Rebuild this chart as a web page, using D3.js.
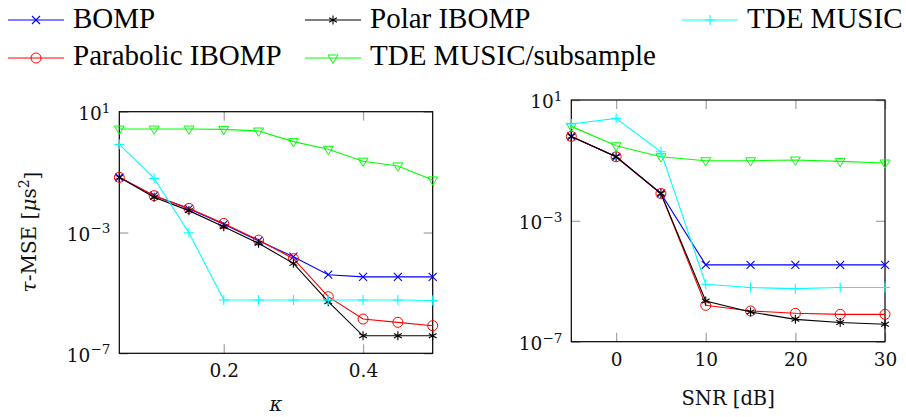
<!DOCTYPE html>
<html>
<head>
<meta charset="utf-8">
<script src="https://cdn.jsdelivr.net/npm/d3@7"></script>
<style>
  body { margin: 0; background: #fff; }
  svg { display: block; }
</style>
</head>
<body>
<svg id="chartSvg" width="906" height="417"></svg>
<script>
// x values of the two panels
const kappaValues = [0.05, 0.1, 0.15, 0.2, 0.25, 0.3, 0.35, 0.4, 0.45, 0.5];
const snrValues = [-5, 0, 5, 10, 15, 20, 25, 30];

// left panel, tau-MSE against kappa
const bompKappa = [0.067, 0.0166, 6.1e-3, 1.86e-3, 5.3e-4, 1.58e-4, 4.0e-5, 3.4e-5, 3.4e-5, 3.4e-5];
const parabolicKappa = [0.067, 0.0166, 6.3e-3, 2.0e-3, 5.6e-4, 1.36e-4, 7.5e-6, 1.36e-6, 1.06e-6, 8.2e-7];
const polarKappa = [0.067, 0.0146, 5.3e-3, 1.56e-3, 4.4e-4, 9.5e-5, 5.1e-6, 3.8e-7, 3.8e-7, 3.8e-7];
const musicKappa = [0.83, 0.062, 9.8e-4, 5.8e-6, 5.8e-6, 5.8e-6, 5.8e-6, 5.8e-6, 5.8e-6, 5.6e-6];
const subsampleKappa = [2.67, 2.67, 2.67, 2.6, 2.29, 1.02, 0.57, 0.23, 0.16, 0.055];

// right panel, tau-MSE against SNR
const bompSnr = [0.625, 0.132, 8.05e-3, 3.5e-5, 3.5e-5, 3.5e-5, 3.5e-5, 3.5e-5];
const parabolicSnr = [0.625, 0.132, 8.05e-3, 1.6e-6, 1.04e-6, 8.7e-7, 8.05e-7, 8.05e-7];
const polarSnr = [0.625, 0.132, 8.05e-3, 2.23e-6, 9.6e-7, 5.5e-7, 4.3e-7, 3.76e-7];
const musicSnr = [1.6, 2.47, 0.194, 8.0e-6, 6.2e-6, 5.7e-6, 6.2e-6, 6.2e-6];
const subsampleSnr = [1.34, 0.306, 0.132, 0.0975, 0.0975, 0.103, 0.093, 0.082];

// ticks
const kappaTicks = [0.2, 0.4];
const snrTicks = [0, 10, 20, 30];
const yTickExponents = [1, -3, -7];

const seriesNames = ["BOMP", "Polar IBOMP", "TDE MUSIC", "Parabolic IBOMP", "TDE MUSIC/subsample"];
const seriesColors = {"BOMP": "#0000ff", "Parabolic IBOMP": "#ff0000", "Polar IBOMP": "#000000",
                      "TDE MUSIC": "#00ffff", "TDE MUSIC/subsample": "#00ff00"};
const seriesMarks = {"BOMP": "cross", "Parabolic IBOMP": "circle", "Polar IBOMP": "asterisk",
                     "TDE MUSIC": "plus", "TDE MUSIC/subsample": "triangle"};

const chartSvg = d3.select("#chartSvg");
const tickFont = "DejaVu Serif";

function drawMark(g, type, x, y, color) {
  if (type === "circle") {
    g.append("circle").attr("cx", x).attr("cy", y).attr("r", 5)
      .attr("fill", "none").attr("stroke", color).attr("stroke-width", 1);
  } else if (type === "cross") {
    let s = 4;
    g.append("path").attr("d", `M${x-s},${y-s}L${x+s},${y+s}M${x-s},${y+s}L${x+s},${y-s}`)
      .attr("stroke", color).attr("stroke-width", 1.1);
  } else if (type === "plus") {
    let s = 5;
    g.append("path").attr("d", `M${x-s},${y}L${x+s},${y}M${x},${y-s}L${x},${y+s}`)
      .attr("stroke", color).attr("stroke-width", 1.1);
  } else if (type === "asterisk") {
    let s = 4.5, c = s * Math.cos(Math.PI / 6), h = s * 0.5;
    g.append("path").attr("d", `M${x},${y-s}L${x},${y+s}M${x-c},${y-h}L${x+c},${y+h}M${x-c},${y+h}L${x+c},${y-h}`)
      .attr("stroke", color).attr("stroke-width", 1.1);
  } else if (type === "triangle") {
    let s = 5;
    g.append("path").attr("d", `M${x-s},${y-s*0.6}L${x+s},${y-s*0.6}L${x},${y+s*1.05}Z`)
      .attr("fill", "none").attr("stroke", color).attr("stroke-width", 1);
  }
}

function drawPanel(p) {
  let xScale = d3.scaleLinear().domain(p.xDomain).range([p.left, p.right]);
  let yScale = d3.scaleLog().domain([1e-7, 10]).range([p.bottom, p.top]);
  let g = chartSvg.append("g");

  // grey inward ticks on all four sides
  let tickLen = 9;
  let xb = g.append("g").attr("transform", "translate(0," + p.bottom + ")")
    .call(d3.axisBottom(xScale).tickValues(p.xTicks).tickSize(-tickLen).tickSizeOuter(0).tickPadding(12)
      .tickFormat(p.xFormat));
  let xt = g.append("g").attr("transform", "translate(0," + p.top + ")")
    .call(d3.axisTop(xScale).tickValues(p.xTicks).tickSize(-tickLen).tickSizeOuter(0).tickFormat(""));
  let yTicks = yTickExponents.map(function (e) { return Math.pow(10, e); });
  let yl = g.append("g").attr("transform", "translate(" + p.left + ",0)")
    .call(d3.axisLeft(yScale).tickValues(yTicks).tickSize(-tickLen).tickSizeOuter(0).tickPadding(9));
  let yr = g.append("g").attr("transform", "translate(" + p.right + ",0)")
    .call(d3.axisRight(yScale).tickValues(yTicks).tickSize(-tickLen).tickSizeOuter(0).tickFormat(""));

  [xb, xt, yl, yr].forEach(function (a) {
    a.select(".domain").remove();
    a.selectAll(".tick line").attr("stroke", "#a8a8a8").attr("stroke-width", 1.3);
  });

  xb.selectAll(".tick text")
    .attr("font-family", tickFont).attr("font-size", 18.5).attr("fill", "#111")
    .attr("dy", null).attr("y", 24);

  // 10^n labels
  yl.selectAll(".tick text").each(function (d) {
    let t = d3.select(this).text("").attr("dy", "0.42em").attr("font-family", tickFont)
      .attr("font-size", 18.5).attr("fill", "#111");
    let e = Math.round(Math.log10(d));
    t.append("tspan").text("10");
    t.append("tspan").attr("dy", "-0.55em").attr("font-size", 13.5)
      .text(e < 0 ? "\u2212" + (-e) : e);
  });

  // frame
  g.append("rect").attr("x", p.left).attr("y", p.top)
    .attr("width", p.right - p.left).attr("height", p.bottom - p.top)
    .attr("fill", "none").attr("stroke", "#000").attr("stroke-width", 1.2);

  // series
  let line = d3.line().x(function (d) { return xScale(d[0]); }).y(function (d) { return yScale(d[1]); });
  p.series.forEach(function (s) {
    let pts = p.xValues.map(function (x, i) { return [x, s.values[i]]; });
    let color = seriesColors[s.name];
    g.append("path").datum(pts).attr("d", line)
      .attr("fill", "none").attr("stroke", color).attr("stroke-width", 1.1);
    pts.forEach(function (d) {
      drawMark(g, seriesMarks[s.name], xScale(d[0]), yScale(d[1]), color);
    });
  });

  // x label
  g.append("text").attr("x", (p.left + p.right) / 2).attr("y", p.xLabelY)
    .attr("text-anchor", "middle").attr("font-family", tickFont).attr("font-size", 19.5)
    .attr("font-style", p.xLabelItalic ? "italic" : null).attr("fill", "#111")
    .text(p.xLabel);
}

drawPanel({
  left: 119.3, right: 432.7, top: 111.7, bottom: 353.3,
  xDomain: [0.05, 0.5], xTicks: kappaTicks, xFormat: d3.format(".1f"),
  xValues: kappaValues, xLabel: "\u03ba", xLabelItalic: true, xLabelY: 411,
  series: [
    {name: "BOMP", values: bompKappa},
    {name: "Parabolic IBOMP", values: parabolicKappa},
    {name: "Polar IBOMP", values: polarKappa},
    {name: "TDE MUSIC/subsample", values: subsampleKappa},
    {name: "TDE MUSIC", values: musicKappa}
  ]
});

drawPanel({
  left: 571.3, right: 885, top: 100, bottom: 341.7,
  xDomain: [-5, 30], xTicks: snrTicks, xFormat: d3.format("d"),
  xValues: snrValues, xLabel: "SNR [dB]", xLabelItalic: false, xLabelY: 405,
  series: [
    {name: "BOMP", values: bompSnr},
    {name: "Parabolic IBOMP", values: parabolicSnr},
    {name: "Polar IBOMP", values: polarSnr},
    {name: "TDE MUSIC/subsample", values: subsampleSnr},
    {name: "TDE MUSIC", values: musicSnr}
  ]
});

// y label of the left panel
let yLabel = chartSvg.append("text")
  .attr("transform", "translate(36,232) rotate(-90)")
  .attr("text-anchor", "middle").attr("font-family", tickFont).attr("font-size", 20).attr("fill", "#111");
yLabel.append("tspan").attr("font-style", "italic").text("\u03c4");
yLabel.append("tspan").text("-MSE [");
yLabel.append("tspan").attr("font-style", "italic").text("\u03bc");
yLabel.append("tspan").text("s");
yLabel.append("tspan").attr("dy", "-0.5em").attr("font-size", 14).text("2");
yLabel.append("tspan").attr("dy", "0.5em").text("]");

// legend, three columns and two rows
let legendX = [8, 305, 682];
let legendRowY = [20, 58];
let legendTextY = [28.3, 65];
seriesNames.forEach(function (name, i) {
  let col = i % 3, row = Math.floor(i / 3);
  let x0 = legendX[col], y = legendRowY[row];
  let color = seriesColors[name];
  chartSvg.append("line").attr("x1", x0).attr("x2", x0 + 56).attr("y1", y).attr("y2", y)
    .attr("stroke", color).attr("stroke-width", 1.2);
  drawMark(chartSvg, seriesMarks[name], x0 + 28, y, color);
  chartSvg.append("text").attr("x", x0 + 65).attr("y", legendTextY[row])
    .attr("font-family", "Liberation Serif").attr("font-size", 29).attr("fill", "#000")
    .text(name);
});
</script>
</body>
</html>
